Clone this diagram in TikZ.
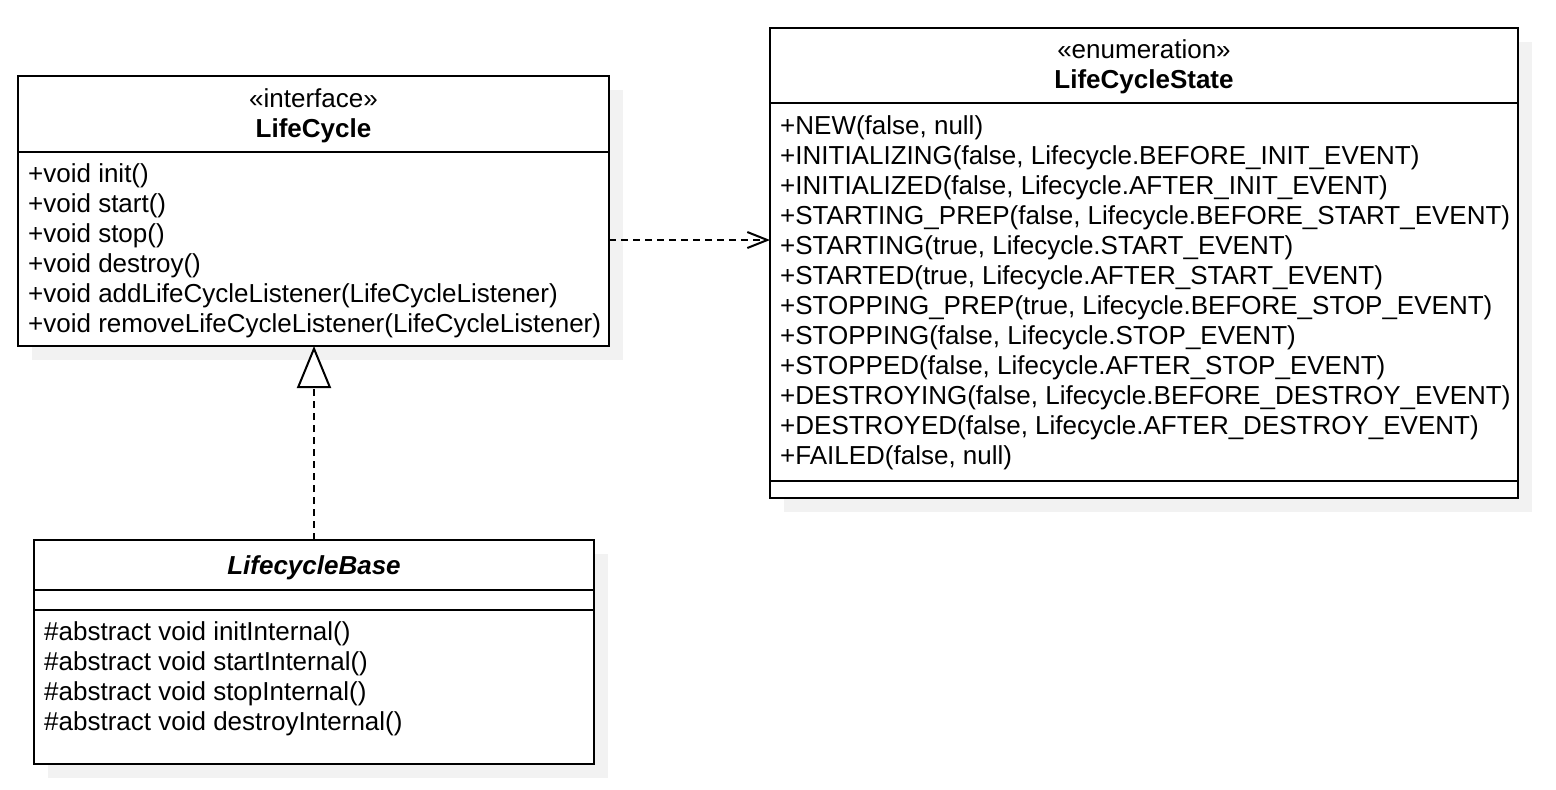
\documentclass[tikz,border=0pt]{standalone}
\usepackage{fontspec}
\setmainfont{Liberation Sans}
\usetikzlibrary{arrows.meta}
\definecolor{shadowc}{RGB}{242,242,242}
\tikzset{
  umlbox/.style={draw=black, line width=2pt, fill=white, inner sep=0pt, outer sep=0pt, anchor=north west},
  shadowbox/.style={fill=shadowc, draw=none},
  divider/.style={line width=2pt},
  txt/.style={anchor=base west, inner sep=0pt, font=\fontsize{26}{30}\selectfont},
  ctxt/.style={anchor=base, inner sep=0pt, font=\fontsize{26}{30}\selectfont},
  dep/.style={line width=2pt, dash pattern=on 7pt off 5pt,
    -{Straight Barb[length=20pt,width=16pt,line width=2pt]}},
  real/.style={line width=2pt, dash pattern=on 7pt off 5pt,
    -{Triangle[open,length=42pt,width=34pt,line width=2pt,fill=white]}}
}
\begin{document}
\begin{tikzpicture}[x=1pt,y=-1pt]
\useasboundingbox (0,0) rectangle (1556,790);
% shadows
\fill[shadowbox] (32,90) rectangle (623,360);
\fill[shadowbox] (784,42) rectangle (1532,512);
\fill[shadowbox] (48,554) rectangle (608,778);
% LifeCycle
\node[umlbox, minimum width=591pt, minimum height=270pt] (lc) at (18,76) {};
\draw[divider] ([yshift=-76pt]lc.north west) -- ([yshift=-76pt]lc.north east);
\node[ctxt] (lcst) at (313.5,107) {«interface»};
\node[ctxt, font=\fontsize{26}{30}\selectfont\bfseries] (lcname) at (313.5,137) {LifeCycle};
\node[txt] (lc1) at (28,182) {+void init()};
\node[txt] (lc2) at (28,212) {+void start()};
\node[txt] (lc3) at (28,242) {+void stop()};
\node[txt] (lc4) at (28,272) {+void destroy()};
\node[txt] (lc5) at (28,302) {+void addLifeCycleListener(LifeCycleListener)};
\node[txt] (lc6) at (28,332) {+void removeLifeCycleListener(LifeCycleListener)};
% LifeCycleState
\node[umlbox, minimum width=748pt, minimum height=470pt] (ls) at (770,28) {};
\draw[divider] ([yshift=-75pt]ls.north west) -- ([yshift=-75pt]ls.north east);
\draw[divider] ([yshift=-453pt]ls.north west) -- ([yshift=-453pt]ls.north east);
\node[ctxt] (lsst) at (1144,58) {«enumeration»};
\node[ctxt, font=\fontsize{26}{30}\selectfont\bfseries] (lsname) at (1144,88) {LifeCycleState};
\node[txt] (ls1) at (780,134) {+NEW(false, null)};
\node[txt] (ls2) at (780,164) {+INITIALIZING(false, Lifecycle.BEFORE\_INIT\_EVENT)};
\node[txt] (ls3) at (780,194) {+INITIALIZED(false, Lifecycle.AFTER\_INIT\_EVENT)};
\node[txt] (ls4) at (780,224) {+STARTING\_PREP(false, Lifecycle.BEFORE\_START\_EVENT)};
\node[txt] (ls5) at (780,254) {+STARTING(true, Lifecycle.START\_EVENT)};
\node[txt] (ls6) at (780,284) {+STARTED(true, Lifecycle.AFTER\_START\_EVENT)};
\node[txt] (ls7) at (780,314) {+STOPPING\_PREP(true, Lifecycle.BEFORE\_STOP\_EVENT)};
\node[txt] (ls8) at (780,344) {+STOPPING(false, Lifecycle.STOP\_EVENT)};
\node[txt] (ls9) at (780,374) {+STOPPED(false, Lifecycle.AFTER\_STOP\_EVENT)};
\node[txt] (ls10) at (780,404) {+DESTROYING(false, Lifecycle.BEFORE\_DESTROY\_EVENT)};
\node[txt] (ls11) at (780,434) {+DESTROYED(false, Lifecycle.AFTER\_DESTROY\_EVENT)};
\node[txt] (ls12) at (780,464) {+FAILED(false, null)};
% LifecycleBase
\node[umlbox, minimum width=560pt, minimum height=224pt] (lb) at (34,540) {};
\draw[divider] ([yshift=-50pt]lb.north west) -- ([yshift=-50pt]lb.north east);
\draw[divider] ([yshift=-70pt]lb.north west) -- ([yshift=-70pt]lb.north east);
\node[ctxt, font=\fontsize{26}{30}\selectfont\bfseries\itshape] (lbname) at (314,574) {LifecycleBase};
\node[txt] (lb1) at (44,640) {\#abstract void initInternal()};
\node[txt] (lb2) at (44,670) {\#abstract void startInternal()};
\node[txt] (lb3) at (44,700) {\#abstract void stopInternal()};
\node[txt] (lb4) at (44,730) {\#abstract void destroyInternal()};
% connectors
\draw[dep] ([yshift=-29pt]lc.east) -- ([yshift=-29pt]lc.east -| ls.west);
\draw[real] (lb.north) -- (lb.north |- lc.south);
\end{tikzpicture}
\end{document}
